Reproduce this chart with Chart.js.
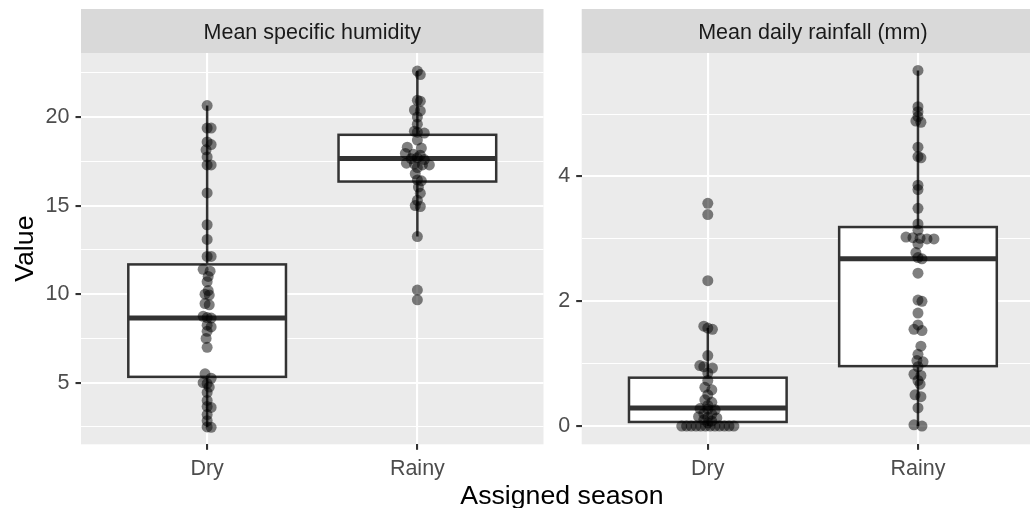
<!DOCTYPE html>
<html>
<head>
<meta charset="utf-8">
<script src="https://cdn.jsdelivr.net/npm/chart.js@4"></script>
<style>
  html, body { margin: 0; padding: 0; background: #fff; overflow: hidden; }
  #wrap { position: relative; width: 1030px; height: 508px; font-family: "Liberation Sans", Arial, sans-serif; }
  #cvA { position: absolute; left: 0; top: 0; }
  #cvB { position: absolute; left: 548px; top: 0; }
  #xTitle { position: absolute; left: 362px; width: 400px; top: 482px; text-align: center;
            font-size: 26.7px; line-height: 1; color: #000; }
</style>
</head>
<body>
<div id="wrap">
  <canvas id="cvA" width="548" height="508"></canvas>
  <canvas id="cvB" width="482" height="508"></canvas>
  <div id="xTitle">Assigned season</div>
</div>
<script>
// categories
const seasons = ['Dry', 'Rainy'];
const panelTitles = ['Mean specific humidity', 'Mean daily rainfall (mm)'];

// y tick labels (major) and minor grid positions
const humidTicks = [5, 10, 15, 20];
const humidMinor = [2.5, 7.5, 12.5, 17.5, 22.5];
const rainTicks = [0, 2, 4];
const rainMinor = [1, 3, 5];

// box stats per season: [Dry, Rainy]
const humidLow = [2.48, 13.25];
const humidQ1 = [5.33, 16.36];
const humidMed = [8.65, 17.66];
const humidQ3 = [11.68, 19.0];
const humidHigh = [20.65, 22.6];

const rainLow = [0, 0];
const rainQ1 = [0.065, 0.96];
const rainMed = [0.29, 2.68];
const rainQ3 = [0.775, 3.19];
const rainHigh = [1.57, 5.70];

// points: [value, horizontal offset in category units]
const humidDry = [
    [20.65, 0], [19.38, 0], [19.38, 0.019], [18.6, 0], [18.45, 0.019], [18.15, -0.005],
    [17.75, 0], [17.3, 0], [17.3, 0.019], [15.72, 0], [13.92, 0], [13.09, 0],
    [12.13, 0], [12.13, 0.019], [11.4, -0.019], [11.3, 0.014], [11.0, 0.005], [10.7, 0],
    [10.2, 0.005], [10.0, -0.010], [9.95, 0.010], [9.47, -0.010], [9.4, 0.010],
    [8.75, -0.019], [8.68, 0], [8.65, 0.019], [8.25, 0], [8.15, 0.019], [7.9, 0],
    [7.5, -0.005], [7.0, 0], [5.5, -0.010], [5.25, 0.019], [5.0, -0.019], [4.95, 0],
    [4.75, 0.010], [4.45, 0], [4.0, 0], [3.65, 0], [3.6, 0.019], [3.2, 0], [2.85, 0],
    [2.5, 0], [2.48, 0.019]
];
const humidRainy = [
    [22.6, 0], [22.4, 0.014], [20.95, 0], [20.9, 0.014], [20.4, -0.014], [20.35, 0.014],
    [20.0, 0], [19.6, 0], [19.2, -0.014], [19.15, 0], [19.1, 0.033], [18.7, 0],
    [18.3, -0.048], [18.25, 0.019], [17.95, -0.057], [17.9, -0.019], [17.85, 0.014],
    [17.7, 0], [17.65, -0.029], [17.6, 0.033], [17.4, -0.052], [17.35, -0.014],
    [17.3, 0.024], [17.3, 0.057], [17.15, 0], [16.8, -0.010], [16.45, 0], [16.4, 0.019],
    [16.05, 0.005], [15.7, 0.014], [15.3, 0], [15.0, -0.010], [14.95, 0.014],
    [13.25, 0], [10.23, 0], [9.68, 0]
];
const rainDry = [
    [3.57, 0], [3.39, 0], [2.33, 0], [1.6, -0.019], [1.57, 0], [1.55, 0.022],
    [1.13, 0], [0.97, -0.038], [0.95, -0.019], [0.93, 0.022], [0.85, 0], [0.73, 0],
    [0.62, -0.014], [0.58, 0.019], [0.5, 0], [0.42, -0.014], [0.38, 0.019], [0.33, 0],
    [0.28, -0.037], [0.27, 0], [0.26, 0.035], [0.2, -0.019], [0.19, 0.019],
    [0.15, -0.044], [0.14, 0], [0.13, 0.043], [0.1, -0.019], [0.08, 0.019], [0.05, 0],
    [0, -0.124], [0, -0.101], [0, -0.079], [0, -0.056], [0, -0.034], [0, -0.011],
    [0, 0.011], [0, 0.034], [0, 0.056], [0, 0.079], [0, 0.101], [0, 0.124]
];
const rainRainy = [
    [5.70, 0], [5.12, 0], [5.04, 0], [4.96, 0], [4.89, -0.010], [4.87, 0.014],
    [4.47, 0], [4.32, 0], [4.3, 0.014], [3.86, 0], [3.79, 0], [3.49, 0], [3.24, 0],
    [3.14, 0], [3.03, -0.057], [3.02, -0.024], [3.01, 0.010], [3.0, 0.043], [3.0, 0.076],
    [2.92, 0], [2.78, -0.010], [2.7, 0], [2.68, 0.019], [2.45, 0], [2.02, 0], [2.0, 0.019],
    [1.81, 0], [1.62, 0], [1.55, -0.019], [1.53, 0.019], [1.28, 0.014], [1.15, 0],
    [1.05, -0.005], [1.03, 0.024], [0.95, 0], [0.83, -0.019], [0.81, 0.014], [0.73, 0],
    [0.67, 0.010], [0.5, -0.014], [0.47, 0.014], [0.29, 0], [0.02, -0.019], [0, 0.019]
];

const FONT = '"Liberation Sans", Arial, sans-serif';
const BOX_WIDTH = 0.75;

// panel background + strip
const panelPlugin = {
    id: 'panel',
    beforeDraw(chart, args, opts) {
        const { ctx, chartArea: a } = chart;
        ctx.save();
        ctx.fillStyle = '#EBEBEB';
        ctx.fillRect(a.left, a.top, a.right - a.left, a.bottom - a.top);
        ctx.fillStyle = '#D9D9D9';
        ctx.fillRect(a.left, 9, a.right - a.left, a.top - 9);
        ctx.fillStyle = '#1A1A1A';
        ctx.font = '21.5px ' + FONT;
        ctx.textAlign = 'center';
        ctx.textBaseline = 'alphabetic';
        ctx.fillText(opts.title, chart.scales.x.getPixelForValue(1.5), 39.3);
        ctx.restore();
    }
};

// boxes and whiskers
const boxPlugin = {
    id: 'boxes',
    beforeDatasetsDraw(chart, args, opts) {
        const { ctx } = chart;
        const xs = chart.scales.x, ys = chart.scales.y;
        ctx.save();
        ctx.strokeStyle = '#333333';
        opts.q1.forEach((q1, i) => {
            const xc = xs.getPixelForValue(i + 1);
            const x0 = xs.getPixelForValue(i + 1 - BOX_WIDTH / 2);
            const x1 = xs.getPixelForValue(i + 1 + BOX_WIDTH / 2);
            const yLow = ys.getPixelForValue(opts.low[i]);
            const yQ1 = ys.getPixelForValue(q1);
            const yMed = ys.getPixelForValue(opts.med[i]);
            const yQ3 = ys.getPixelForValue(opts.q3[i]);
            const yHigh = ys.getPixelForValue(opts.high[i]);

            ctx.lineWidth = 2.5;
            ctx.beginPath();
            ctx.moveTo(xc, yHigh); ctx.lineTo(xc, yQ3);
            ctx.moveTo(xc, yQ1); ctx.lineTo(xc, yLow);
            ctx.stroke();

            ctx.fillStyle = '#FFFFFF';
            ctx.fillRect(x0, yQ3, x1 - x0, yQ1 - yQ3);
            ctx.strokeRect(x0, yQ3, x1 - x0, yQ1 - yQ3);

            ctx.lineWidth = 5;
            ctx.beginPath();
            ctx.moveTo(x0, yMed); ctx.lineTo(x1, yMed);
            ctx.stroke();
        });
        ctx.restore();
    }
};

function makePanel(canvasId, cfg) {
    const allTicks = cfg.ticks.concat(cfg.minor).sort((a, b) => a - b);
    const isMajor = v => cfg.ticks.includes(v);
    const datasets = [cfg.dry, cfg.rainy].map((pts, i) => ({
        data: pts.map(([v, j]) => ({ x: i + 1 + j, y: v })),
        pointRadius: 5.5,
        pointHoverRadius: 5.5,
        backgroundColor: 'rgba(0,0,0,0.5)',
        borderWidth: 0
    }));

    return new Chart(document.getElementById(canvasId), {
        type: 'scatter',
        data: { datasets },
        options: {
            responsive: false,
            animation: false,
            events: [],
            layout: { autoPadding: false, padding: { top: 53, right: cfg.padRight, left: 0, bottom: 0 } },
            plugins: {
                legend: { display: false },
                tooltip: { enabled: false },
                panel: { title: cfg.title },
                boxes: cfg.box
            },
            scales: {
                x: {
                    type: 'linear',
                    min: 0.4,
                    max: cfg.xMax,
                    afterBuildTicks: s => { s.ticks = seasons.map((_, i) => ({ value: i + 1 })); },
                    afterFit: s => { s.height = 63.7; },
                    border: { display: false },
                    grid: { color: '#FFFFFF', lineWidth: 2.1, tickColor: '#333333', tickLength: 5.5, tickWidth: 2.1 },
                    ticks: {
                        padding: 6,
                        color: '#4D4D4D',
                        font: { family: FONT, size: 21.5 },
                        callback: v => seasons[v - 1]
                    }
                },
                y: {
                    min: cfg.yMin,
                    max: cfg.yMax,
                    afterBuildTicks: s => { s.ticks = allTicks.map(v => ({ value: v })); },
                    afterFit: s => { s.width = cfg.yWidth; },
                    border: { display: false },
                    grid: {
                        color: '#FFFFFF',
                        lineWidth: c => (c.tick && isMajor(c.tick.value)) ? 2.1 : 1.05,
                        tickColor: c => (c.tick && isMajor(c.tick.value)) ? '#333333' : 'rgba(0,0,0,0)',
                        tickLength: 5.5,
                        tickWidth: 2.1
                    },
                    ticks: {
                        padding: 6,
                        color: '#4D4D4D',
                        font: { family: FONT, size: 21.5 },
                        callback: v => isMajor(v) ? String(v) : ''
                    },
                    title: {
                        display: cfg.yTitle !== '',
                        text: cfg.yTitle,
                        color: '#000000',
                        font: { family: FONT, size: 26.7 },
                        padding: { top: 10, bottom: 0 }
                    }
                }
            }
        },
        plugins: [panelPlugin, boxPlugin]
    });
}

makePanel('cvA', {
    title: panelTitles[0],
    dry: humidDry, rainy: humidRainy,
    ticks: humidTicks, minor: humidMinor,
    yMin: 1.52, yMax: 23.62, yWidth: 81, yTitle: 'Value',
    xMax: 2.6, padRight: 4.5,
    box: { low: humidLow, q1: humidQ1, med: humidMed, q3: humidQ3, high: humidHigh }
});

makePanel('cvB', {
    title: panelTitles[1],
    dry: rainDry, rainy: rainRainy,
    ticks: rainTicks, minor: rainMinor,
    yMin: -0.293, yMax: 5.98, yWidth: 33.7, yTitle: '',
    xMax: 2.533, padRight: 0,
    box: { low: rainLow, q1: rainQ1, med: rainMed, q3: rainQ3, high: rainHigh }
});
</script>
</body>
</html>
